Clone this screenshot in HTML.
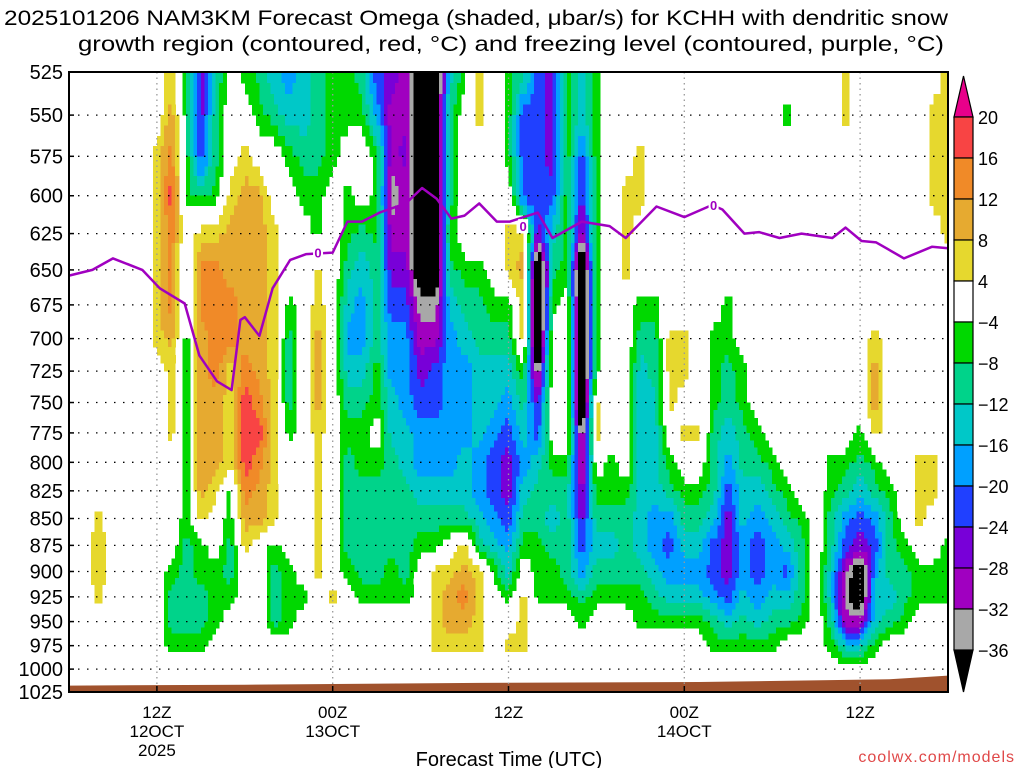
<!DOCTYPE html>
<html><head><meta charset="utf-8"><style>
html,body{margin:0;padding:0;background:#fff;}
svg{display:block;font-family:"Liberation Sans",sans-serif;}
</style></head><body>
<svg id="chart" width="1024" height="768" viewBox="0 0 1024 768" xmlns="http://www.w3.org/2000/svg">
<text x="476" y="25" font-size="21" text-anchor="middle" textLength="944" lengthAdjust="spacingAndGlyphs">2025101206 NAM3KM Forecast Omega (shaded, μbar/s) for KCHH with dendritic snow</text>
<text x="511" y="51" font-size="21" text-anchor="middle" textLength="866" lengthAdjust="spacingAndGlyphs">growth region (contoured, red, °C) and freezing level (contoured, purple, °C)</text>
<g id="cells" shape-rendering="crispEdges"></g>
<g id="ground"></g>
<g id="grid"></g>
<g id="frz"></g>
<g id="axes"></g>
<g id="cbar"></g>
<text x="509" y="766" font-size="20" text-anchor="middle">Forecast Time (UTC)</text>
<text x="1015" y="762" font-size="16" text-anchor="end" fill="#e04848" letter-spacing="1">coolwx.com/models</text>
</svg>
<script>
const levels=[525,550,575,600,625,650,675,700,725,750,775,800,825,850,875,900,925,950,975,1000];
const hours=[0,1,2,3,4,5,6,7,8,9,10,11,12,13,14,15,16,17,18,19,20,21,22,23,24,25,26,27,28,29,30,31,32,33,34,35,36,37,38,39,40,41,42,43,44,45,46,47,48,49,50,51,52,53,54,55,56,57,58,59,60];
const omega=[
[0,0,0,0,0,0,0,0,0,0,0,0,0,0,0,0,0,0,0,0],
[0,0,0,0,0,0,0,0,0,0,0,0,0,0,0,0,0,0,0,0],
[0,0,0,0,0,0,0,0,0,0,0,0,0,6,7,7,6,0,0,0],
[0,0,0,0,0,0,0,0,0,0,0,0,0,0,0,0,0,0,0,0],
[0,0,0,0,0,0,0,0,0,0,0,0,0,0,0,0,0,0,0,0],
[0,0,0,0,0,0,0,0,0,0,0,0,0,0,0,0,0,0,0,0],
[0,0,6,6,6,6,6,6,0,0,0,0,0,0,0,0,0,0,0,0],
[6,10,14,18,14,14,14,10,6,6,6,0,0,0,0,-6,-10,-10,-6,0],
[-6,-6,-6,-6,0,-6,-6,-6,-6,-6,-6,-6,-6,-6,-10,-10,-10,-10,-6,0],
[-26,-26,-22,-10,6,14,14,10,10,10,10,10,10,6,-6,-6,-10,-10,-6,0],
[-14,-10,-10,-6,6,14,14,14,14,10,10,10,6,0,0,-6,-6,-6,0,0],
[0,0,0,6,10,10,14,14,6,6,6,6,-6,-6,-10,-10,-6,0,0,0],
[-6,0,6,10,10,10,10,10,14,18,18,18,14,10,6,0,0,0,0,0],
[-10,-6,0,10,10,10,10,10,10,14,18,14,10,10,0,0,0,0,0,0],
[-14,-10,0,0,6,6,6,6,6,6,6,6,6,6,-6,-10,-10,-10,0,0],
[-18,-14,-6,0,0,0,-6,-10,-10,-10,-6,0,0,0,0,-6,-6,-6,0,0],
[-14,-14,-10,-6,0,0,0,0,0,0,0,0,0,0,0,0,-6,0,0,0],
[-10,-10,-10,-6,-6,6,6,10,10,10,6,6,6,6,6,6,0,0,0,0],
[-6,-6,-6,0,0,0,0,0,0,0,0,0,0,0,0,0,6,0,0,0],
[-6,-6,0,-6,-6,-10,-14,-18,-14,-10,-6,-10,-10,-10,-10,-6,0,0,0,0],
[-10,-6,0,0,-10,-14,-18,-18,-14,-10,-6,-6,-10,-10,-10,-10,-6,0,0,0],
[-22,-18,-6,-6,-6,-10,-10,-10,-6,-6,0,-6,-10,-10,-10,-10,-6,0,0,0],
[-26,-30,-30,-34,-30,-26,-22,-18,-18,-14,-14,-10,-10,-10,-10,-6,-6,0,0,0],
[-30,-30,-26,-30,-30,-26,-22,-18,-18,-18,-14,-14,-10,-10,-10,-10,-6,0,0,0],
[-44,-44,-44,-44,-44,-44,-34,-30,-26,-22,-18,-18,-14,-10,-6,0,0,0,0,0],
[-44,-44,-44,-44,-44,-44,-34,-30,-22,-22,-18,-18,-14,-10,-6,6,6,6,6,0],
[-14,-10,-10,-10,-6,-10,-14,-18,-18,-18,-18,-18,-14,-10,0,6,10,10,6,0],
[-6,0,0,0,0,-6,-10,-14,-18,-18,-18,-14,-14,-10,6,10,14,10,6,0],
[6,6,0,0,0,-6,-10,-10,-14,-14,-14,-18,-18,-14,-10,6,6,6,6,0],
[0,0,0,0,0,0,-6,-10,-14,-14,-18,-22,-22,-18,-14,-6,0,0,0,0],
[-6,-6,-6,0,6,6,-6,-10,-14,-18,-22,-26,-26,-22,-18,-14,-6,0,6,0],
[-10,-22,-22,-22,6,10,6,6,-6,-10,-14,-18,-14,-10,-6,0,6,6,6,0],
[-22,-22,-22,-22,-26,-50,-50,-50,-36,-26,-22,-14,-10,-10,-6,-6,-6,0,0,0],
[-26,-26,-26,-22,-14,-10,-6,0,0,0,0,-6,-10,-14,-10,-6,-6,0,0,0],
[-6,-6,-6,-6,-6,-6,0,0,0,0,0,-6,-10,-10,-10,-10,-6,0,0,0],
[-14,-14,-22,-26,-30,-50,-50,-50,-50,-50,-36,-34,-30,-26,-22,-18,-10,-6,0,0],
[-6,-6,-6,-6,-6,-6,-6,-6,-6,6,6,0,-6,-10,-14,-10,-6,0,0,0],
[0,0,0,0,0,0,0,0,0,0,0,-6,-6,-10,-14,-10,-6,0,0,0],
[0,0,0,6,6,6,0,0,0,0,0,0,-6,-10,-10,-10,-6,0,0,0],
[0,0,6,6,0,0,-6,-10,-14,-14,-14,-14,-14,-14,-14,-10,-6,-6,0,0],
[0,0,0,0,0,0,-6,-10,-10,-14,-14,-14,-14,-18,-18,-14,-10,-6,0,0],
[0,0,0,0,0,0,0,6,6,6,0,-6,-10,-18,-22,-18,-14,-6,0,0],
[0,0,0,0,0,0,0,6,6,0,6,0,-6,-10,-14,-18,-14,-6,0,0],
[0,0,0,0,0,0,0,0,0,0,6,0,-6,-10,-14,-18,-14,-6,0,0],
[0,0,0,0,0,0,0,-6,-6,-6,-10,-10,-10,-14,-22,-22,-18,-10,-6,0],
[0,0,0,0,0,0,-6,-6,-10,-10,-14,-18,-22,-26,-26,-26,-22,-14,-6,0],
[0,0,0,0,0,0,0,0,-6,-6,-10,-10,-14,-14,-18,-18,-14,-10,-6,0],
[0,0,0,0,0,0,0,0,0,0,-6,-10,-14,-18,-22,-22,-18,-14,-6,0],
[0,0,0,0,0,0,0,0,0,0,0,-6,-10,-14,-18,-18,-14,-10,-6,0],
[0,-6,0,0,0,0,0,0,0,0,0,0,-6,-10,-14,-22,-14,-10,0,0],
[0,0,0,0,0,0,0,0,0,0,0,0,0,-6,-10,-10,-10,-6,0,0],
[0,0,0,0,0,0,0,0,0,0,0,0,0,0,0,0,0,0,0,0],
[0,0,0,0,0,0,0,0,0,0,0,-6,-6,-10,-10,-14,-14,-10,-6,0],
[6,6,0,0,0,0,0,0,0,0,0,-6,-10,-18,-22,-30,-34,-30,-14,0],
[0,0,0,0,0,0,0,0,0,0,-6,-10,-14,-22,-26,-44,-44,-30,-14,0],
[0,0,0,0,0,0,0,6,10,10,6,-6,-10,-18,-22,-18,-14,-14,-6,0],
[0,0,0,0,0,0,0,0,0,0,0,0,-6,-10,-10,-10,-14,-10,0,0],
[0,0,0,0,0,0,0,0,0,0,0,0,0,0,-6,-10,-10,-6,0,0],
[0,0,0,0,0,0,0,0,0,0,0,6,6,6,0,-6,-6,0,0,0],
[0,6,6,6,0,0,0,0,0,0,0,6,6,0,0,-6,-6,0,0,0],
[6,6,6,6,6,0,0,0,0,0,0,0,0,0,-6,-6,-6,0,0,0]
];
const frzHours=[0,1.6,3.0,5.0,6.2,7.9,8.9,10.1,11.1,11.7,12.0,13.0,13.9,15.1,16.2,18.0,19.0,20.0,21.2,23.0,24.1,25.1,26.1,27.0,28.0,29.2,30.1,32.0,33.0,35.0,36.9,38.0,40.1,42.0,43.9,44.6,46.1,47.1,48.5,50.0,52.1,53.0,54.1,55.1,57.0,58.9,60];
const frzPres=[654,650,642,650,663,674,713,733,740,686,684,698,663,643,639,638,617,617,611,605,595,602,615,613,605,617,617,611,628,617,620,628,607,614,606,609,625,624,628,625,628,621,630,631,642,634,635];
const frzLabelHours=[17,31,44];
const frzLabelPres=[638,620,606];
const groundHours=[0,12,28,43,56,60];
const groundPres=[1018,1017,1015,1014,1011,1007];
const yTicks=[525,550,575,600,625,650,675,700,725,750,775,800,825,850,875,900,925,950,975,1000,1025];
const xTickHours=[6,18,30,42,54];
const xTickLine1=["12Z","00Z","12Z","00Z","12Z"];
const xTickLine2=["12OCT","13OCT","","14OCT",""];
const xTickLine3=["2025","","","",""];
const cbarBounds=[20,16,12,8,4,-4,-8,-12,-16,-20,-24,-28,-32,-36];

const NS="http://www.w3.org/2000/svg";
const X0=69,X1=948,Y0=72,Y1=692,HMAX=60;
function xH(h){return X0+(X1-X0)*h/HMAX;}
function yP(p){return Y0+(Y1-Y0)*(Math.log(p)-Math.log(525))/(Math.log(1025)-Math.log(525));}
function color(v){
 if(v>=20)return"#e8008a";if(v>=16)return"#f84444";if(v>=12)return"#f08a28";if(v>=8)return"#e6aa30";if(v>=4)return"#e6d82e";
 if(v>-4)return null;if(v>-8)return"#00d800";if(v>-12)return"#00d38a";if(v>-16)return"#00c8c8";if(v>-20)return"#00a0ff";
 if(v>-24)return"#2040ff";if(v>-28)return"#7800d8";if(v>-32)return"#a000c0";if(v>-36)return"#a8a8a8";return"#000000";}
function mk(tag,attrs,parent){const e=document.createElementNS(NS,tag);for(const k in attrs)e.setAttribute(k,attrs[k]);parent.appendChild(e);return e;}
function val(hf,lf){
 hf=Math.max(0,Math.min(hours.length-1,hf));lf=Math.max(0,Math.min(levels.length-1,lf));
 const i=Math.min(Math.floor(hf),hours.length-2),j=Math.min(Math.floor(lf),levels.length-2);
 const a=hf-i,b=lf-j;
 return omega[i][j]*(1-a)*(1-b)+omega[i+1][j]*a*(1-b)+omega[i][j+1]*(1-a)*b+omega[i+1][j+1]*a*b;
}

const cells=document.getElementById('cells');
const SUBH=4,SUBL=4;
const nCols=hours.length*SUBH,nRows=levels.length*SUBL;
for(let r=0;r<nRows;r++){
 const lf=-0.5+(r+0.5)/SUBL;
 const pa=Math.max(525,525+25*(lf-0.5/SUBL)),pb=525+25*(lf+0.5/SUBL);
 const ya=yP(pa),yb=yP(pb);
 let runStart=null,runColor=null;
 const flush=(endC)=>{
  if(runColor){
   const xa=Math.max(X0,xH(-0.5+runStart/SUBH)),xb=Math.min(X1,xH(-0.5+endC/SUBH));
   if(xb>xa){
    const rc=mk('rect',{x:xa.toFixed(1),y:ya.toFixed(1),width:(xb-xa+0.5).toFixed(1),height:(yb-ya+0.6).toFixed(1),fill:runColor},cells);
    
    
   }
  }
 };
 for(let c=0;c<nCols;c++){
  const hf=-0.5+(c+0.5)/SUBH;
  const col=color(val(hf,lf));
  if(col!==runColor){flush(c);runStart=c;runColor=col;}
 }
 flush(nCols);
}

const ground=document.getElementById('ground');
let gp=groundHours.map((h,i)=>xH(h).toFixed(1)+','+yP(groundPres[i]).toFixed(1));
gp.push(X1+','+Y1);gp.push(X0+','+Y1);
const gpoly=mk('polygon',{points:gp.join(' '),fill:'#a0522d'},ground);



const grid=document.getElementById('grid');
yTicks.forEach(p=>{
 if(p===525||p===1025)return;
 const l=mk('line',{x1:X0,x2:X1,y1:yP(p).toFixed(1),y2:yP(p).toFixed(1),stroke:'#000','stroke-width':1.3,'stroke-dasharray':'1.5,7.5'},grid);
 
 
});
xTickHours.forEach(h=>{
 const l=mk('line',{x1:xH(h),x2:xH(h),y1:Y0,y2:Y1,stroke:'#999','stroke-width':1.3,'stroke-dasharray':'1.5,4'},grid);
 
 
});

const frz=document.getElementById('frz');
const pl=mk('polyline',{points:frzHours.map((h,i)=>xH(h).toFixed(1)+','+yP(frzPres[i]).toFixed(1)).join(' '),fill:'none',stroke:'#a000c0','stroke-width':2.5,'stroke-linejoin':'round'},frz);


frzLabelHours.forEach((h,i)=>{
 const x=xH(h),y=yP(frzLabelPres[i]);
 const bg=mk('rect',{x:x-5,y:y-7,width:10,height:14,fill:'#fff'},frz);
 
 
 const t=mk('text',{x:x,y:y+5,'font-size':13,'font-weight':'bold','text-anchor':'middle',fill:'#a000c0'},frz);
 t.textContent='0';
 
 
});

const axes=document.getElementById('axes');
const fr=mk('rect',{x:X0,y:Y0,width:X1-X0,height:Y1-Y0,fill:'none',stroke:'#000','stroke-width':2},axes);


yTicks.forEach(p=>{
 const y=yP(p);
 const tk=mk('line',{x1:X0,x2:X0+5,y1:y,y2:y,stroke:'#000','stroke-width':1.5},axes);
 
 
 const t=mk('text',{x:63,y:(y+7).toFixed(1),'font-size':20,'text-anchor':'end'},axes);
 t.textContent=String(p);
 
 
});
xTickHours.forEach((h,i)=>{
 const x=xH(h);
 const tk=mk('line',{x1:x,x2:x,y1:Y1-6,y2:Y1,stroke:'#000','stroke-width':1.5},axes);
 
 
 [xTickLine1[i],xTickLine2[i],xTickLine3[i]].forEach((s,k)=>{
  if(!s)return;
  const t=mk('text',{x:x,y:718+k*19,'font-size':17,'text-anchor':'middle'},axes);
  t.textContent=s;
  
  
 });
});

const cbar=document.getElementById('cbar');
const CX=954,CW=19,CT=117,CB=650;
const bh=(CB-CT)/(cbarBounds.length-1);
const ta=mk('polygon',{points:`${CX},${CT} ${CX+CW},${CT} ${CX+CW/2},${CT-41}`,fill:'#e8008a',stroke:'#000','stroke-width':1.2},cbar);


const ba=mk('polygon',{points:`${CX},${CB} ${CX+CW},${CB} ${CX+CW/2},${CB+42}`,fill:'#000',stroke:'#000','stroke-width':1.2},cbar);


for(let i=0;i<cbarBounds.length-1;i++){
 const v=(cbarBounds[i]+cbarBounds[i+1])/2;
 const r=mk('rect',{x:CX,y:(CT+i*bh).toFixed(1),width:CW,height:bh.toFixed(1),fill:color(v)||'#fff',stroke:'#000','stroke-width':1.2},cbar);
 
 
}
cbarBounds.forEach((b,i)=>{
 const t=mk('text',{x:978,y:(CT+i*bh+7).toFixed(1),'font-size':18},cbar);
 t.textContent=b<0?'\u2212'+Math.abs(b):String(b);
 
 
});
</script>
</body></html>
